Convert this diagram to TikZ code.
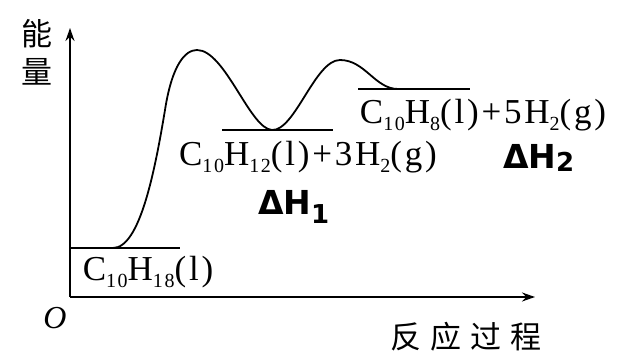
\documentclass[tikz,border=0pt]{standalone}
\usepackage{fontspec}
\usetikzlibrary{arrows.meta}
\setmainfont{Liberation Serif}
\newfontfamily\chem[LetterSpace=8]{Liberation Serif}
\newfontfamily\cjk{Noto Sans CJK SC}
\newfontfamily\hand{DejaVu Sans}
\newcommand\sbs[1]{\raisebox{-0.2em}{\fontsize{20}{20}\selectfont #1}}
\tikzset{
  axis/.style={line width=1.8pt,-{Stealth[length=13pt,width=9pt]}},
  level/.style={line width=1.8pt},
  curve/.style={line width=1.8pt},
  chemlabel/.style={inner sep=0pt,font=\chem\fontsize{35}{35}\selectfont},
  cjklabel/.style={inner sep=0pt,font=\cjk\fontsize{31}{31}\selectfont},
  handlabel/.style={inner sep=0pt,font=\hand\bfseries\fontsize{33}{33}\selectfont}
}
\begin{document}
\begin{tikzpicture}[x=1pt,y=-1pt]
\useasboundingbox[fill=white] (0,0) rectangle (622,352);
% axes
\coordinate (O) at (70,297);
\coordinate (ytip) at (70,28);
\coordinate (xtip) at (535,297);
\draw[axis] (O) -- (ytip);
\draw[axis] (O) -- (xtip);
% levels
\coordinate (l1a) at (70,248); \coordinate (l1b) at (180,248);
\coordinate (l2a) at (222,130); \coordinate (l2b) at (333,130);
\coordinate (l3a) at (358,89); \coordinate (l3b) at (470,89);
\draw[level] (l1a) -- (l1b);
\draw[level] (l2a) -- (l2b);
\draw[level] (l3a) -- (l3b);
% energy curve
\draw[curve] (113,248) .. controls (140,248) and (155,170) .. (165,110)
  .. controls (172,65) and (185,50) .. (197,50)
  .. controls (225,50) and (250,129) .. (272,130)
  .. controls (295,131) and (315,60) .. (340,60)
  .. controls (365,60) and (375,89) .. (398,89);
% labels
\node[cjklabel] (yl1) at (37,34) {能};
\node[cjklabel] (yl2) at (37,72) {量};
\node[inner sep=0pt,font=\fontsize{32}{32}\selectfont\itshape] (olab) at (55,318) {O};
\node[cjklabel] (xl) at (466,337) {反\hspace{9pt}应\hspace{9pt}过\hspace{9pt}程};
\node[chemlabel] (s1) at (148,272) {C\sbs{10}H\sbs{18}(l)};
\node[chemlabel] (s2) at (308,157) {C\sbs{10}H\sbs{12}(l)+3H\sbs{2}(g)};
\node[chemlabel] (s3) at (483,115) {C\sbs{10}H\sbs{8}(l)+5H\sbs{2}(g)};
\node[handlabel] (dh1) at (294,207) {Δ\kern-1ptH\raisebox{-0.25em}{\fontsize{26}{26}\selectfont 1}};
\node[handlabel] (dh2) at (539,158) {Δ\kern-1ptH\raisebox{-0.1em}{\fontsize{26}{26}\selectfont 2}};
\end{tikzpicture}
\end{document}
